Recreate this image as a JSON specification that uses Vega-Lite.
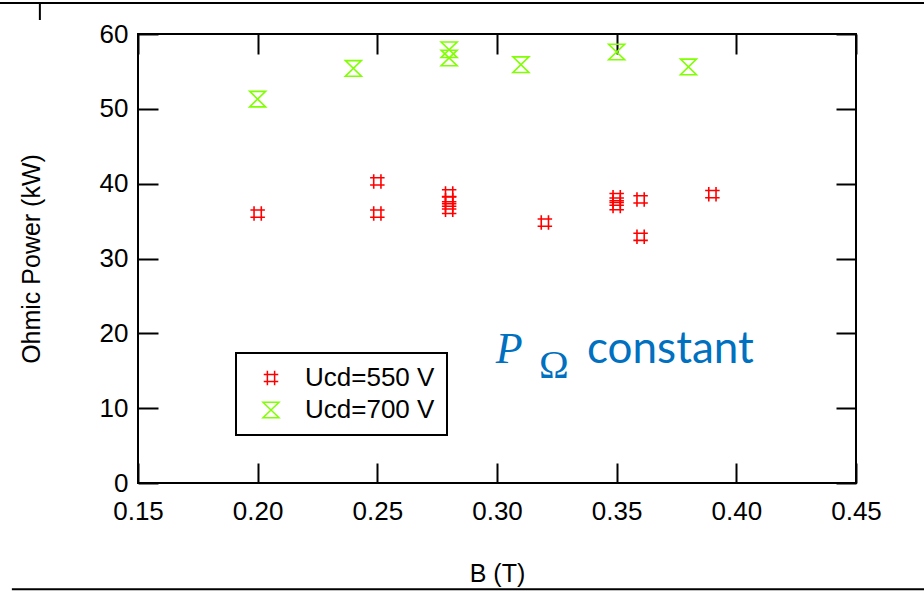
{
  "$schema": "https://vega.github.io/schema/vega-lite/v6.json",
  "width": 718,
  "height": 449,
  "autosize": {"type": "none"},
  "padding": {"left": 138, "top": 34, "right": 68, "bottom": 108},
  "background": "white",
  "view": {"stroke": "black", "strokeWidth": 2},
  "config": {
    "font": "Liberation Sans",
    "axis": {
      "labelFont": "Liberation Sans",
      "labelFontSize": 26,
      "labelColor": "black",
      "titleFont": "Liberation Sans",
      "titleFontSize": 25,
      "titleFontWeight": "normal",
      "titleColor": "black",
      "tickColor": "black",
      "tickWidth": 2,
      "tickSize": -20,
      "domain": false,
      "grid": false
    },
    "legend": {
      "labelFont": "Liberation Sans",
      "labelFontSize": 26,
      "labelColor": "black",
      "strokeColor": "black",
      "strokeWidth": 2,
      "padding": 12,
      "symbolOffset": 10,
      "labelOffset": 21,
      "rowPadding": 6,
      "symbolSize": 150,
      "symbolStrokeWidth": 1.5,
      "symbolFillColor": "transparent"
    }
  },
  "datasets": {
    "pts": [
      {"B": 0.20, "P": 36.0, "series": "Ucd=550 V"},
      {"B": 0.25, "P": 40.3, "series": "Ucd=550 V"},
      {"B": 0.25, "P": 36.0, "series": "Ucd=550 V"},
      {"B": 0.28, "P": 38.7, "series": "Ucd=550 V"},
      {"B": 0.28, "P": 37.8, "series": "Ucd=550 V"},
      {"B": 0.28, "P": 37.1, "series": "Ucd=550 V"},
      {"B": 0.28, "P": 36.5, "series": "Ucd=550 V"},
      {"B": 0.32, "P": 34.8, "series": "Ucd=550 V"},
      {"B": 0.35, "P": 38.2, "series": "Ucd=550 V"},
      {"B": 0.35, "P": 37.6, "series": "Ucd=550 V"},
      {"B": 0.35, "P": 37.0, "series": "Ucd=550 V"},
      {"B": 0.36, "P": 37.9, "series": "Ucd=550 V"},
      {"B": 0.36, "P": 32.9, "series": "Ucd=550 V"},
      {"B": 0.39, "P": 38.6, "series": "Ucd=550 V"},
      {"B": 0.20, "P": 51.3, "series": "Ucd=700 V"},
      {"B": 0.24, "P": 55.4, "series": "Ucd=700 V"},
      {"B": 0.28, "P": 57.9, "series": "Ucd=700 V"},
      {"B": 0.28, "P": 56.8, "series": "Ucd=700 V"},
      {"B": 0.31, "P": 55.9, "series": "Ucd=700 V"},
      {"B": 0.35, "P": 57.6, "series": "Ucd=700 V"},
      {"B": 0.38, "P": 55.6, "series": "Ucd=700 V"}
    ]
  },
  "layer": [
    {
      "data": {"name": "pts"},
      "mark": {"type": "point", "filled": false, "strokeWidth": 1.6, "opacity": 1},
      "encoding": {
        "x": {
          "field": "B", "type": "quantitative",
          "scale": {"domain": [0.15, 0.45], "nice": false, "zero": false},
          "axis": {"orient": "bottom", "title": "B (T)", "values": [0.15, 0.2, 0.25, 0.3, 0.35, 0.4, 0.45], "format": ".2f", "labelPadding": 35, "titlePadding": 37, "labelFlush": false}
        },
        "y": {
          "field": "P", "type": "quantitative",
          "scale": {"domain": [0, 60], "nice": false},
          "axis": {"orient": "left", "title": "Ohmic Power (kW)", "values": [0, 10, 20, 30, 40, 50, 60], "labelPadding": 30, "titlePadding": 55, "labelFlush": false}
        },
        "color": {
          "field": "series", "type": "nominal",
          "scale": {"domain": ["Ucd=550 V", "Ucd=700 V"], "range": ["#ff0000", "#80ff00"]},
          "legend": {"title": null, "orient": "none", "legendX": 98, "legendY": 319}
        },
        "shape": {
          "field": "series", "type": "nominal",
          "scale": {"domain": ["Ucd=550 V", "Ucd=700 V"], "range": ["M-0.5,-1L-0.5,1M0.5,-1L0.5,1M-1,-0.5L1,-0.5M-1,0.5L1,0.5", "M-1,-0.97L1,-0.97L-1,0.97L1,0.97Z"]},
          "legend": null
        },
        "size": {
          "field": "series", "type": "nominal",
          "scale": {"domain": ["Ucd=550 V", "Ucd=700 V"], "range": [210, 256]},
          "legend": null
        }
      }
    },
    {
      "data": {"name": "pts"},
      "mark": {"type": "point", "opacity": 0},
      "encoding": {
        "x": {
          "field": "B", "type": "quantitative",
          "axis": {"orient": "top", "title": null, "labels": false, "values": [0.15, 0.2, 0.25, 0.3, 0.35, 0.4, 0.45]}
        },
        "y": {
          "field": "P", "type": "quantitative",
          "axis": {"orient": "right", "title": null, "labels": false, "values": [0, 10, 20, 30, 40, 50, 60]}
        }
      }
    },
    {
      "data": {"values": [{}]},
      "mark": {"type": "text", "text": "P", "font": "Liberation Serif", "fontStyle": "italic", "fontSize": 44, "color": "#0070c0", "align": "left", "baseline": "alphabetic"},
      "encoding": {"x": {"datum": 0.2995, "type": "quantitative", "axis": null}, "y": {"datum": 16.04, "type": "quantitative", "axis": null}}
    },
    {
      "data": {"values": [{}]},
      "mark": {"type": "text", "text": "Ω", "font": "Liberation Serif", "fontSize": 40, "color": "#0070c0", "align": "left", "baseline": "alphabetic"},
      "encoding": {"x": {"datum": 0.3176, "type": "quantitative", "axis": null}, "y": {"datum": 14.03, "type": "quantitative", "axis": null}}
    },
    {
      "data": {"values": [{}]},
      "mark": {"type": "text", "text": "constant", "font": "Lato", "fontSize": 44, "color": "#0070c0", "align": "left", "baseline": "alphabetic"},
      "encoding": {"x": {"datum": 0.3376, "type": "quantitative", "axis": null}, "y": {"datum": 16.04, "type": "quantitative", "axis": null}}
    },
    {
      "data": {"values": [{}]},
      "mark": {"type": "rule", "color": "black", "strokeWidth": 2},
      "encoding": {"x": {"datum": 0.0923, "type": "quantitative", "axis": null}, "x2": {"datum": 0.479}, "y": {"datum": 64.14, "type": "quantitative", "axis": null}}
    },
    {
      "data": {"values": [{}]},
      "mark": {"type": "rule", "color": "black", "strokeWidth": 2},
      "encoding": {"x": {"datum": 0.109, "type": "quantitative", "axis": null}, "y": {"datum": 64.14, "type": "quantitative", "axis": null}, "y2": {"datum": 61.87}}
    },
    {
      "data": {"values": [{}]},
      "mark": {"type": "rule", "color": "black", "strokeWidth": 2},
      "encoding": {"x": {"datum": 0.0973, "type": "quantitative", "axis": null}, "x2": {"datum": 0.479}, "y": {"datum": -14.2, "type": "quantitative", "axis": null}}
    }
  ],
  "resolve": {"axis": {"x": "independent", "y": "independent"}}
}
